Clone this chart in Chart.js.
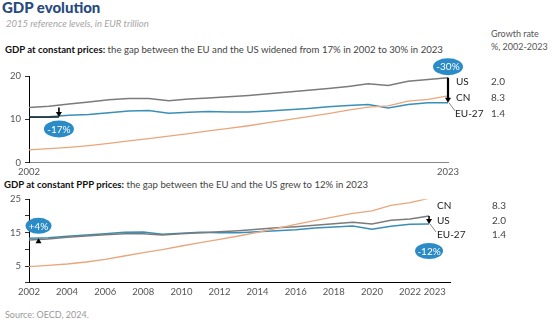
<!DOCTYPE html>
<html>
<head>
<meta charset="utf-8">
<script src="https://cdn.jsdelivr.net/npm/chart.js@4/dist/chart.umd.min.js"></script>
<style>
  body { margin: 0; background: #fff; width: 555px; height: 327px; position: relative; overflow: hidden; font-family: Lato, "Open Sans", sans-serif; }
  .t { position: absolute; white-space: nowrap; line-height: 1; }
  .box { position: absolute; left: 0; width: 555px; }
</style>
</head>
<body>
<div class="t" style="left:2px;top:0px;font-size:15px;font-weight:900;color:#284a7e;">GDP evolution</div>
<div class="t" style="left:6px;top:18.5px;font-size:9.5px;font-style:italic;color:#a5a5a5;">2015 reference levels, in EUR trillion</div>
<div class="t" style="left:491px;top:29px;font-size:9px;color:#555;">Growth rate</div>
<div class="t" style="left:491px;top:41.5px;font-size:9px;color:#555;">%, 2002-2023</div>
<div class="t" style="left:5px;top:45px;font-size:9.6px;color:#444;"><span style="color:#111;font-weight:700;">GDP at constant prices:</span> the gap between the EU and the US widened from 17% in 2002 to 30% in 2023</div>
<div class="t" style="left:4px;top:179.5px;font-size:9.6px;color:#444;"><span style="color:#111;font-weight:700;">GDP at constant PPP prices:</span> the gap between the EU and the US grew to 12% in 2023</div>
<div class="t" style="left:5px;top:310px;font-size:9px;color:#999;">Source: OECD, 2024.</div>

<div class="box" style="top:58px;height:124px;"><canvas id="chartConst" width="555" height="124"></canvas></div>
<div class="box" style="top:188px;height:112px;"><canvas id="chartPpp" width="555" height="112"></canvas></div>
<div id="sideLabels"></div>

<script>
// GDP, 2015 reference levels, EUR trillion
const years = [2002, 2003, 2004, 2005, 2006, 2007, 2008, 2009, 2010, 2011, 2012,
               2013, 2014, 2015, 2016, 2017, 2018, 2019, 2020, 2021, 2022, 2023];

// constant prices
const usConst = [12.7, 13.0, 13.5, 14.0, 14.5, 14.8, 14.8, 14.3, 14.7, 14.9, 15.2,
                 15.5, 15.9, 16.3, 16.7, 17.1, 17.6, 18.2, 17.8, 18.8, 19.2, 19.6];
const euConst = [10.5, 10.6, 10.9, 11.1, 11.5, 11.9, 12.0, 11.4, 11.6, 11.8, 11.7,
                 11.7, 11.9, 12.2, 12.5, 12.9, 13.2, 13.4, 12.6, 13.4, 13.8, 13.8];
const cnConst = [2.9, 3.2, 3.5, 3.9, 4.4, 5.0, 5.5, 6.1, 6.7, 7.3, 7.9,
                 8.5, 9.2, 9.9, 10.6, 11.3, 12.1, 12.8, 13.1, 14.2, 14.6, 15.4];

// constant PPP prices
const usPpp = [12.8, 13.1, 13.6, 14.0, 14.4, 14.7, 14.7, 14.3, 14.7, 15.0, 15.3,
               15.6, 16.0, 16.5, 16.8, 17.2, 17.7, 18.1, 17.6, 18.7, 19.1, 20.0];
const euPpp = [13.3, 13.5, 13.9, 14.3, 14.7, 15.1, 15.2, 14.5, 14.8, 15.1, 15.0,
               15.0, 15.3, 15.6, 15.9, 16.4, 16.7, 17.0, 16.0, 16.9, 17.5, 17.6];
const cnPpp = [4.8, 5.2, 5.6, 6.2, 7.0, 8.0, 9.0, 9.9, 11.0, 12.0, 13.0,
               14.0, 15.1, 16.3, 17.5, 18.6, 19.7, 20.8, 21.5, 23.2, 24.0, 25.3];

// growth rate, %, 2002-2023
const growthUs = '2.0';
const growthCn = '8.3';
const growthEu = '1.4';

// the 2023 label sits a little right of its year so it clears 2022
const constTicks = [2002, 2023];
const pppTicks = [2002, 2004, 2006, 2008, 2010, 2012, 2014, 2016, 2018, 2020, 2022, 2023.3];

const US_COLOR = '#7b7b7b';
const EU_COLOR = '#3a8fb7';
const CN_COLOR = '#eaa67b';
const TICK_FONT = { family: 'Lato', size: 9.5 };

function points(vals) {
    return years.map((yr, i) => ({ x: yr, y: vals[i] }));
}

function gapText(eu, us) {
    const pct = Math.round((eu / us - 1) * 100);
    return (pct > 0 ? '+' : '') + pct + '%';
}

function arrow(ctx, x, yFrom, yTo, width) {
    const dir = yTo > yFrom ? 1 : -1;
    ctx.save();
    ctx.strokeStyle = '#000';
    ctx.fillStyle = '#000';
    ctx.lineWidth = width;
    ctx.beginPath();
    ctx.moveTo(x, yFrom);
    ctx.lineTo(x, yTo - dir * 4);
    ctx.stroke();
    ctx.beginPath();
    ctx.moveTo(x - 3, yTo - dir * 5);
    ctx.lineTo(x + 3, yTo - dir * 5);
    ctx.lineTo(x, yTo);
    ctx.closePath();
    ctx.fill();
    ctx.restore();
}

function bubble(ctx, cx, cy, rx, ry, text) {
    ctx.save();
    ctx.fillStyle = '#2a8bc6';
    ctx.beginPath();
    ctx.ellipse(cx, cy, rx, ry, 0, 0, Math.PI * 2);
    ctx.fill();
    ctx.fillStyle = '#fff';
    ctx.font = '10px Lato';
    ctx.textAlign = 'center';
    ctx.textBaseline = 'middle';
    ctx.fillText(text, cx, cy + 0.5);
    ctx.restore();
}

function leader(ctx, x, y) {
    ctx.save();
    ctx.strokeStyle = '#666';
    ctx.lineWidth = 0.8;
    ctx.beginPath();
    ctx.moveTo(x + 1, y);
    ctx.lineTo(x + 7, y + 8);
    ctx.stroke();
    ctx.restore();
}

const last = years.length - 1;

// gap arrows and bubbles, constant prices
const constMarks = {
    id: 'constMarks',
    afterDatasetsDraw(chart) {
        const { ctx, scales: { x, y } } = chart;
        const x0 = x.getPixelForValue(years[0]);
        const xa = x.getPixelForValue(2003.5);
        const x1 = x.getPixelForValue(years[last]);
        const yUs0 = y.getPixelForValue(usConst[0]);
        const yEu0 = y.getPixelForValue(euConst[0]);
        const yUs1 = y.getPixelForValue(usConst[last]);
        const yEu1 = y.getPixelForValue(euConst[last]);

        ctx.save();
        ctx.strokeStyle = '#000';
        ctx.lineWidth = 1.2;
        ctx.beginPath();
        ctx.moveTo(x0, yEu0);
        ctx.lineTo(xa, yEu0);
        ctx.stroke();
        ctx.restore();

        arrow(ctx, xa, yUs0, yEu0, 1.6);
        bubble(ctx, xa, yEu0 + 12, 15, 8.5, gapText(euConst[0], usConst[0]));

        arrow(ctx, x1, yUs1, yEu1, 2.2);
        leader(ctx, x1, yEu1);
        bubble(ctx, x1, yUs1 - 11, 15, 8.5, gapText(euConst[last], usConst[last]));
    }
};

// gap arrows and bubbles, PPP prices
const pppMarks = {
    id: 'pppMarks',
    afterDatasetsDraw(chart) {
        const { ctx, scales: { x, y } } = chart;
        const xa = x.getPixelForValue(2002.5);
        const x1 = x.getPixelForValue(years[last]);
        const yUs0 = y.getPixelForValue(usPpp[0]);
        const yEu0 = y.getPixelForValue(euPpp[0]);
        const yUs1 = y.getPixelForValue(usPpp[last]);
        const yEu1 = y.getPixelForValue(euPpp[last]);

        arrow(ctx, xa, yUs0 + 3, yEu0, 1.2);
        bubble(ctx, xa, yEu0 - 12.5, 13, 8, gapText(euPpp[0], usPpp[0]));

        arrow(ctx, x1, yUs1, yEu1, 1.5);
        leader(ctx, x1, yEu1);
        bubble(ctx, x1, yEu1 + 27, 14, 8, gapText(euPpp[last], usPpp[last]));
    }
};

function lineSet(label, vals, color, width) {
    return {
        label: label,
        data: points(vals),
        borderColor: color,
        borderWidth: width,
        pointRadius: 0,
        tension: 0,
        fill: false
    };
}

function baseOptions(yMax, yStep, xMax, xTicks, padTop, padRight, xHeight, xBorder, yLabel) {
    return {
        responsive: false,
        animation: false,
        devicePixelRatio: 1,
        layout: { padding: { top: padTop, right: padRight, left: 0, bottom: 0 } },
        plugins: { legend: { display: false }, tooltip: { enabled: false } },
        scales: {
            x: {
                type: 'linear',
                min: 2002,
                max: xMax,
                grid: { display: false, drawTicks: false },
                border: { color: xBorder, width: 1 },
                afterBuildTicks(scale) { scale.ticks = xTicks.map(v => ({ value: v })); },
                afterFit(scale) { scale.height = xHeight; },
                ticks: {
                    autoSkip: false,
                    maxRotation: 0,
                    padding: 4,
                    color: '#555',
                    font: TICK_FONT,
                    callback: v => String(Math.round(v))
                }
            },
            y: {
                min: 0,
                max: yMax,
                grid: { drawOnChartArea: false, drawTicks: true, tickLength: 4, color: '#333' },
                border: { color: '#000', width: 1 },
                afterFit(scale) { scale.width = 29; },
                ticks: {
                    stepSize: yStep,
                    padding: 4,
                    color: '#555',
                    font: TICK_FONT,
                    callback: yLabel
                }
            }
        }
    };
}

const chartConst = document.getElementById('chartConst');
new Chart(chartConst, {
    type: 'line',
    data: {
        datasets: [
            lineSet('CN', cnConst, CN_COLOR, 1.3),
            lineSet('EU-27', euConst, EU_COLOR, 1.5),
            lineSet('US', usConst, US_COLOR, 1.5)
        ]
    },
    options: baseOptions(20, 10, 2023, constTicks, 18, 107, 19.5, '#888', v => v),
    plugins: [constMarks]
});

const chartPpp = document.getElementById('chartPpp');
new Chart(chartPpp, {
    type: 'line',
    data: {
        datasets: [
            lineSet('CN', cnPpp, CN_COLOR, 1.3),
            lineSet('US', usPpp, US_COLOR, 1.5),
            lineSet('EU-27', euPpp, EU_COLOR, 1.5)
        ]
    },
    options: baseOptions(25, 5, 2024.1, pppTicks, 11.3, 105, 17.3, '#000',
        v => (v % 10 === 5 ? v : '')),
    plugins: [pppMarks]
});

// series names and growth rates at the right of each panel
const sideRows = [
    ['US', growthUs, 456, 491, 81],
    ['CN', growthCn, 456, 491, 97],
    ['EU-27', growthEu, 455, 491, 113],
    ['CN', growthCn, 437, 492, 205],
    ['US', growthUs, 437, 492, 220],
    ['EU-27', growthEu, 437, 492, 234]
];
const side = document.getElementById('sideLabels');
sideRows.forEach(([name, rate, xName, xRate, yMid]) => {
    side.insertAdjacentHTML('beforeend',
        `<div class="t" style="left:${xName}px;top:${yMid - 5.5}px;font-size:10px;color:#222;">${name}</div>` +
        `<div class="t" style="left:${xRate}px;top:${yMid - 5.5}px;font-size:10px;color:#444;">${rate}</div>`);
});
</script>
</body>
</html>
